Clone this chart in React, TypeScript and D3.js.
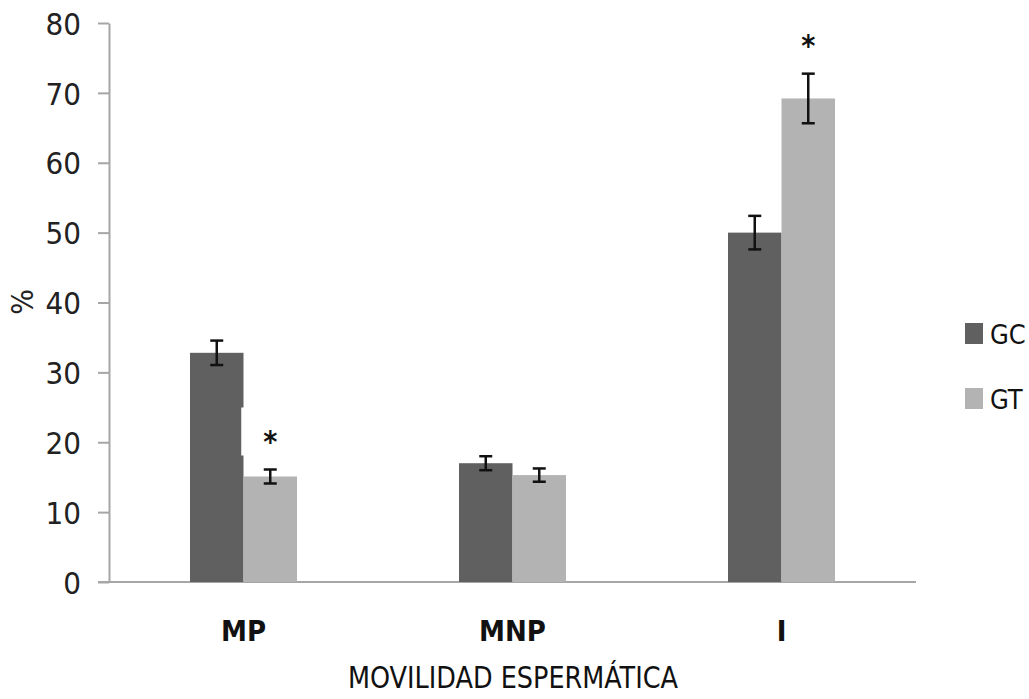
import React, { useEffect, useRef } from 'react';
import * as d3 from 'd3';

const categories = ['MP', 'MNP', 'I'];
const series = ['GC', 'GT'];
const gcValues = [32.8, 17.0, 50.0];
const gtValues = [15.1, 15.3, 69.2];
const gcErrors = [1.75, 1.0, 2.4];
const gtErrors = [1.0, 0.95, 3.55];
const gtStars = [true, false, true];
const yTicks = [0, 10, 20, 30, 40, 50, 60, 70, 80];

const colors = ['#606060', '#b3b3b3'];
const font = "'Liberation Sans Narrow', 'DejaVu Sans Condensed', sans-serif";

export default function App() {
  const svgRef = useRef<SVGSVGElement>(null);

  useEffect(() => {
    const svg = d3.select(svgRef.current);
    svg.selectAll('*').remove();

    const left = 109, right = 916, top = 23, bottom = 582;

    const x = d3.scaleBand().domain(categories).range([left, right]).paddingInner(0).paddingOuter(0);
    const inner = d3.scaleBand().domain(series).range([0, 107]);
    const y = d3.scaleLinear().domain([0, 80]).range([bottom, top]);

    // y axis
    const yAxis = d3.axisLeft(y).tickValues(yTicks).tickSize(11).tickSizeOuter(0).tickPadding(17);
    const ya = svg.append('g').attr('transform', `translate(${left},0)`).call(yAxis);
    ya.select('.domain').attr('stroke', '#a6a6a6').attr('stroke-width', 2);
    ya.selectAll('.tick line').attr('stroke', '#a6a6a6').attr('stroke-width', 2);
    ya.selectAll('.tick text')
      .attr('font-family', font).attr('font-size', 31).attr('fill', '#222').attr('dy', '0.36em');

    // x axis line
    svg.append('line')
      .attr('x1', left - 11).attr('x2', right)
      .attr('y1', y(0)).attr('y2', y(0))
      .attr('stroke', '#a6a6a6').attr('stroke-width', 2);

    const data = categories.map((c, i) => ({
      cat: c,
      vals: [
        { s: 'GC', v: gcValues[i], e: gcErrors[i], star: false },
        { s: 'GT', v: gtValues[i], e: gtErrors[i], star: gtStars[i] },
      ],
    }));

    const groups = svg.selectAll('.grp').data(data).join('g')
      .attr('class', 'grp')
      .attr('transform', d => `translate(${(x(d.cat) as number) + x.bandwidth() / 2 - 53.5},0)`);

    groups.selectAll('rect').data(d => d.vals).join('rect')
      .attr('x', d => inner(d.s) as number)
      .attr('width', inner.bandwidth())
      .attr('y', d => y(d.v))
      .attr('height', d => y(0) - y(d.v))
      .attr('fill', (d, i) => colors[i]);

    // error bars
    const eb = groups.selectAll('.err').data(d => d.vals).join('g').attr('class', 'err')
      .attr('transform', d => `translate(${(inner(d.s) as number) + inner.bandwidth() / 2},0)`);
    eb.append('line').attr('x1', 0).attr('x2', 0)
      .attr('y1', d => y(d.v + d.e)).attr('y2', d => y(d.v - d.e))
      .attr('stroke', '#111').attr('stroke-width', 2.5);
    eb.append('line').attr('x1', -6.5).attr('x2', 6.5)
      .attr('y1', d => y(d.v + d.e)).attr('y2', d => y(d.v + d.e))
      .attr('stroke', '#111').attr('stroke-width', 2.5);
    eb.append('line').attr('x1', -6.5).attr('x2', 6.5)
      .attr('y1', d => y(d.v - d.e)).attr('y2', d => y(d.v - d.e))
      .attr('stroke', '#111').attr('stroke-width', 2.5);

    // significance stars with white label background
    const stars = eb.filter(d => d.star);
    stars.append('rect')
      .attr('x', -29).attr('width', 52)
      .attr('y', d => y(d.v + d.e) - 62).attr('height', 48)
      .attr('fill', '#fff')
      .attr('opacity', d => (d.v < 30 ? 1 : 0));
    stars.append('text')
      .attr('x', 0).attr('y', d => y(d.v + d.e) - 18)
      .attr('text-anchor', 'middle')
      .attr('font-family', font).attr('font-size', 30).attr('font-weight', 'bold').attr('fill', '#111')
      .text('*');

    // category labels
    svg.selectAll('.cat').data(categories).join('text')
      .attr('class', 'cat')
      .attr('x', d => (x(d) as number) + x.bandwidth() / 2)
      .attr('y', 641)
      .attr('text-anchor', 'middle')
      .attr('font-family', font).attr('font-size', 29).attr('font-weight', 600).attr('fill', '#111')
      .text(d => d);

    // axis titles
    svg.append('text')
      .attr('x', 513).attr('y', 688)
      .attr('text-anchor', 'middle')
      .attr('font-family', font).attr('font-size', 31).attr('fill', '#111')
      .attr('textLength', 330).attr('lengthAdjust', 'spacingAndGlyphs')
      .text('MOVILIDAD ESPERMÁTICA');

    svg.append('text')
      .attr('transform', 'translate(33,302) rotate(-90)')
      .attr('text-anchor', 'middle')
      .attr('font-family', font).attr('font-size', 30).attr('fill', '#222')
      .text('%');

    // legend
    const leg = svg.selectAll('.leg').data(series).join('g')
      .attr('class', 'leg')
      .attr('transform', (d, i) => `translate(965,${323 + i * 65})`);
    leg.append('rect').attr('width', 18).attr('height', 21).attr('fill', (d, i) => colors[i]);
    leg.append('text')
      .attr('x', 25).attr('y', 21)
      .attr('font-family', font).attr('font-size', 27).attr('fill', '#111')
      .text(d => d);
  }, []);

  return (
    <svg ref={svgRef} width={1029} height={699}
      style={{ position: 'absolute', left: 0, top: 0, background: '#fff' }} />
  );
}
